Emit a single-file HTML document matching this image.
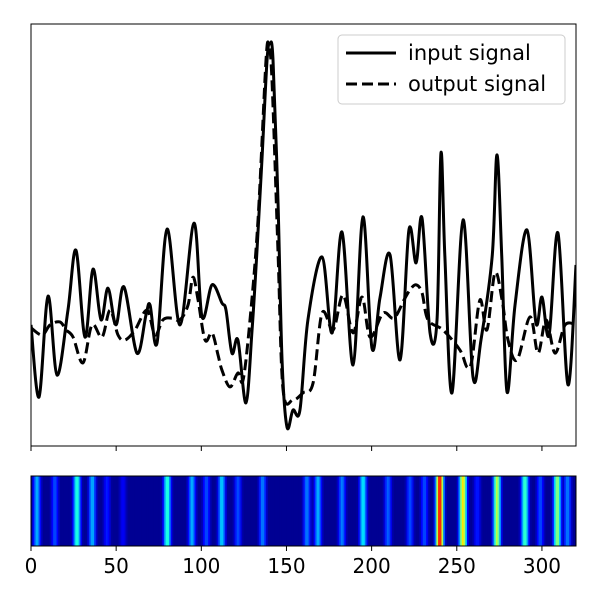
<!DOCTYPE html>
<html><head><meta charset="utf-8"><style>body{margin:0;background:#fff}svg{display:block}</style></head>
<body>
<svg id="c" width="600" height="600" xmlns="http://www.w3.org/2000/svg" font-family="DejaVu Sans, Liberation Sans, sans-serif"></svg>
<script>
// data (x in samples 0..320, y in arbitrary amplitude 0..100)
const inputX=[0,4.7,10.0,15.3,21.7,26.4,31.7,36.4,41.1,45.2,49.9,54.6,62.2,67.5,69.9,74.0,79.9,87.5,95.7,100.4,106.3,112.1,114.5,118.0,121.5,126.2,129.8,132.7,135.6,138.6,140.3,142.1,145.0,147.4,150.3,153.8,157.9,162.6,170.9,176.8,182.6,189.1,194.9,200.2,204.9,210.8,216.7,221.9,226.1,229.6,234.3,238.4,240.7,243.0,247.2,253.7,259.5,264.2,270.8,273.6,276.4,279.5,284.2,291.2,296.5,300.0,304.2,309.4,315.3,320.0];
const inputY=[28.7,11.6,35.5,16.8,32.2,46.4,25.8,41.9,29.9,37.4,28.7,37.7,22.0,31.0,33.4,24.4,51.4,28.7,52.8,30.6,38.2,33.9,32.2,22.0,25.1,10.2,27.5,46.4,67.8,91.5,95.3,91.5,58.3,20.4,4.5,8.5,8.5,29.9,44.8,26.8,50.7,19.2,54.3,23.2,35.1,45.3,20.4,51.2,43.4,54.0,26.8,29.9,69.4,45.0,12.6,53.6,16.4,25.1,45.0,69.0,45.0,12.8,33.4,51.2,29.1,35.3,26.3,50.5,14.5,42.9];
const outputX=[0,6.5,11.2,17.0,20.6,24.7,30.5,35.8,41.7,46.4,51.1,55.2,61.1,68.1,72.8,77.5,82.8,87.5,92.2,95.1,98.1,102.2,106.3,109.8,112.1,116.8,121.5,124.5,128.6,133.3,138.0,139.7,141.5,145.0,148.0,153.8,159.7,165.6,170.9,177.4,183.2,189.1,194.4,199.1,206.7,213.1,219.0,222.5,226.1,229.6,233.1,241.9,251.9,256.0,258.9,263.6,267.7,272.4,276.6,280.1,285.4,293.0,297.7,302.4,307.7,313.6,320.0];
const outputY=[28.0,26.3,28.7,29.4,27.5,25.8,19.7,28.7,25.8,32.2,26.3,25.1,27.5,32.2,26.3,29.9,30.3,29.9,33.4,40.0,34.6,25.1,26.8,21.6,18.0,14.0,17.3,15.6,29.9,53.6,91.5,94.3,86.7,46.4,13.3,10.9,12.6,14.9,31.5,27.5,35.8,26.8,35.3,25.8,31.5,30.3,34.6,37.0,38.2,36.3,29.9,27.5,22.7,18.7,20.4,34.6,27.5,41.0,34.6,25.1,20.4,30.6,22.0,29.9,22.0,28.7,28.7];
const stripeX=[3.5,14,27,36,44.6,54,80,94.5,103,112,121.5,136,162,168.5,182.6,195,209.6,222.5,231,240,253.6,262,273.6,290,299,309,315];
const stripeV=[0.3,0.2,0.42,0.3,0.15,0.12,0.42,0.3,0.2,0.33,0.2,0.25,0.25,0.3,0.25,0.36,0.22,0.2,0.2,0.88,0.65,0.15,0.56,0.44,0.2,0.52,0.25];
const xTicks=[0,50,100,150,200,250,300];

const NS='http://www.w3.org/2000/svg',svg=document.getElementById('c');
const L=31,R=576,T=24,B=446,HT=476,HB=546;
const sx=v=>L+(v/320)*(R-L);
const sy=v=>B-(v/100)*(B-T);
function mk(t,a,p){const e=document.createElementNS(NS,t);for(const k in a)e.setAttribute(k,a[k]);(p||svg).appendChild(e);return e;}
function path(xs,ys){const P=xs.map((x,i)=>[sx(x),sy(ys[i])]);let d='M'+P[0][0]+','+P[0][1];
 for(let i=0;i<P.length-1;i++){const p0=P[Math.max(0,i-1)],p1=P[i],p2=P[i+1],p3=P[Math.min(P.length-1,i+2)];
 d+=' C'+(p1[0]+(p2[0]-p0[0])/6)+','+(p1[1]+(p2[1]-p0[1])/6)+' '+(p2[0]-(p3[0]-p1[0])/6)+','+(p2[1]-(p3[1]-p1[1])/6)+' '+p2[0]+','+p2[1];}return d;}
function jet(v){const r=Math.min(1,Math.max(0,Math.min(4*v-1.5,-4*v+4.5))),g=Math.min(1,Math.max(0,Math.min(4*v-0.5,-4*v+3.5))),b=Math.min(1,Math.max(0,Math.min(4*v+0.5,-4*v+2.5)));return `rgb(${r*255|0},${g*255|0},${b*255|0})`;}
const clip=mk('clipPath',{id:'cp'});mk('rect',{x:L,y:T,width:R-L,height:B-T},clip);
const g=mk('g',{'clip-path':'url(#cp)'});
let o=mk('path',{d:path(outputX,outputY),fill:'none',stroke:'#000','stroke-width':3,'stroke-dasharray':'11,5'},g);

let ip=mk('path',{d:path(inputX,inputY),fill:'none',stroke:'#000','stroke-width':3},g);

let f1=mk('rect',{x:L,y:T,width:R-L,height:B-T,fill:'none',stroke:'#000','stroke-width':1});

// heatmap
const hg=mk('g',{});
for(let i=0;i<320;i++){let v=0.02;stripeX.forEach((c,j)=>{v=Math.max(v,stripeV[j]*Math.exp(-Math.pow((i+0.5-c)/2.2,2)));});
 const r=mk('rect',{x:sx(i),y:HT,width:sx(i+1)-sx(i)+0.5,height:HB-HT,fill:jet(v)},hg);
 }
let f2=mk('rect',{x:L,y:HT,width:R-L,height:HB-HT,fill:'none',stroke:'#000','stroke-width':1});

xTicks.forEach(t=>{const x=sx(t);
 mk('line',{x1:x,x2:x,y1:B,y2:B+5,stroke:'#000'});
 mk('line',{x1:x,x2:x,y1:HB,y2:HB+5,stroke:'#000'});
 const tx=mk('text',{x:x,y:573,'text-anchor':'middle','font-size':20},svg);tx.textContent=t;
 });
// legend
const lg=mk('g',{});
mk('rect',{x:338,y:35,width:227,height:69,rx:4,fill:'#fff','fill-opacity':0.8,stroke:'#ccc'},lg);
mk('line',{x1:346,x2:396,y1:53,y2:53,stroke:'#000','stroke-width':3},lg);
mk('line',{x1:346,x2:396,y1:84,y2:84,stroke:'#000','stroke-width':3,'stroke-dasharray':'11,5'},lg);
let t1=mk('text',{x:408,y:60,'font-size':21},lg);t1.textContent='input signal';
let t2=mk('text',{x:408,y:91,'font-size':21},lg);t2.textContent='output signal';
</script>
</body></html>
